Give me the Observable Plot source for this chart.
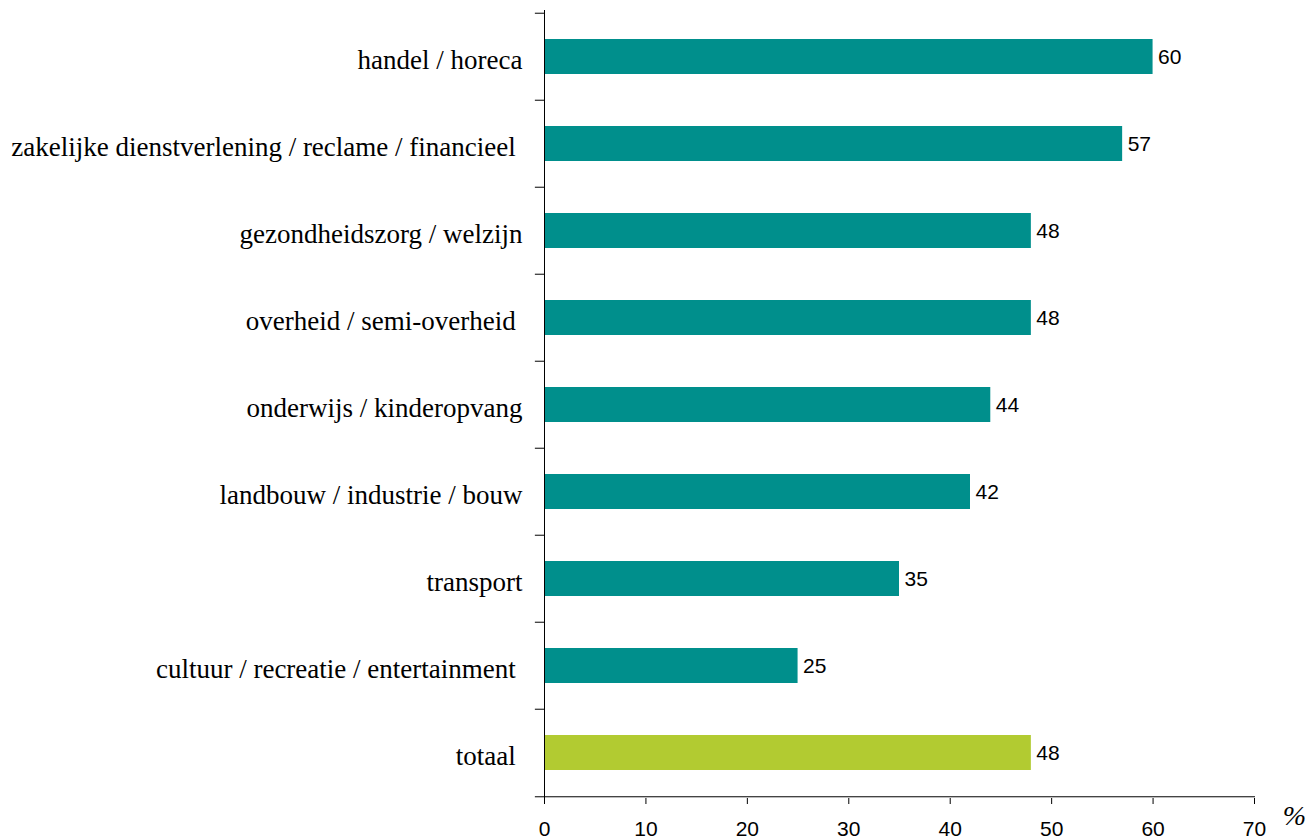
<!DOCTYPE html>
<html>
<head>
<meta charset="utf-8">
<script src="https://cdn.jsdelivr.net/npm/d3@7"></script>
<script src="https://cdn.jsdelivr.net/npm/@observablehq/plot@0.6"></script>
<style>
  html, body { margin: 0; padding: 0; background: #fff; }
  #chart svg { display: block; }
</style>
</head>
<body>
<div id="chart"></div>
<script>
const categories = [
  "handel / horeca",
  "zakelijke dienstverlening / reclame / financieel\u00a0",
  "gezondheidszorg / welzijn",
  "overheid / semi-overheid\u00a0",
  "onderwijs / kinderopvang",
  "landbouw / industrie / bouw",
  "transport",
  "cultuur / recreatie / entertainment\u00a0",
  "totaal\u00a0"
];
const values = [60, 57, 48, 48, 44, 42, 35, 25, 48];
const groups = ["sector", "sector", "sector", "sector", "sector", "sector", "sector", "sector", "totaal"];
const xTicks = [0, 10, 20, 30, 40, 50, 60, 70];

const data = categories.map((c, i) => ({category: c, value: values[i], group: groups[i]}));

const W = 1308, H = 839;
const mTop = 10, mBottom = 41, mLeft = 544, mRight = 54;
const bandH = (H - mTop - mBottom) / categories.length;

const chart = Plot.plot({
  width: W,
  height: H,
  marginTop: mTop,
  marginBottom: mBottom,
  marginLeft: mLeft,
  marginRight: mRight,
  style: {background: "#fff", overflow: "visible"},
  x: {domain: [0, 70], ticks: xTicks},
  y: {domain: categories, padding: 0},
  color: {domain: ["sector", "totaal"], range: ["#008F8C", "#B2CB31"]},
  marks: [
    Plot.barX(data, {y: "category", x: "value", fill: "group", insetTop: 26, insetBottom: 26}),
    Plot.text(data, {y: "category", x: "value", text: d => String(d.value), textAnchor: "start", dx: 5, dy: 0,
      fontFamily: "Liberation Sans, Arial, sans-serif", fontSize: 21, fill: "#000"}),
    // y axis line and band boundary ticks
    Plot.ruleX([0], {stroke: "#000", strokeWidth: 1}),
    Plot.ruleY(categories, {y: d => d, x1: -0.9, x2: 0, dy: -bandH / 2, stroke: "#000", strokeWidth: 1}),
    // x axis line
    Plot.ruleY([categories[categories.length - 1]], {y: d => d, x1: -0.9, x2: 70.1, dy: bandH / 2, stroke: "#000", strokeWidth: 1}),
    Plot.axisX({ticks: xTicks, tickSize: 6, tickPadding: 17, fontSize: 21,
      fontFamily: "Liberation Sans, Arial, sans-serif", label: null, stroke: "#000", color: "#000"}),
    Plot.axisY({tickSize: 0, tickPadding: 22, fontSize: 27, dy: 3, fontFamily: "Liberation Serif, Times New Roman, serif",
      label: null, color: "#000"}),
    Plot.text(["%"], {x: 70, frameAnchor: "bottom", text: d => d, dx: 40, dy: 26,
      fontFamily: "Liberation Serif, Times New Roman, serif", fontStyle: "italic", fontSize: 28, fill: "#000"})
  ]
});
document.getElementById("chart").appendChild(chart);
</script>
</body>
</html>
